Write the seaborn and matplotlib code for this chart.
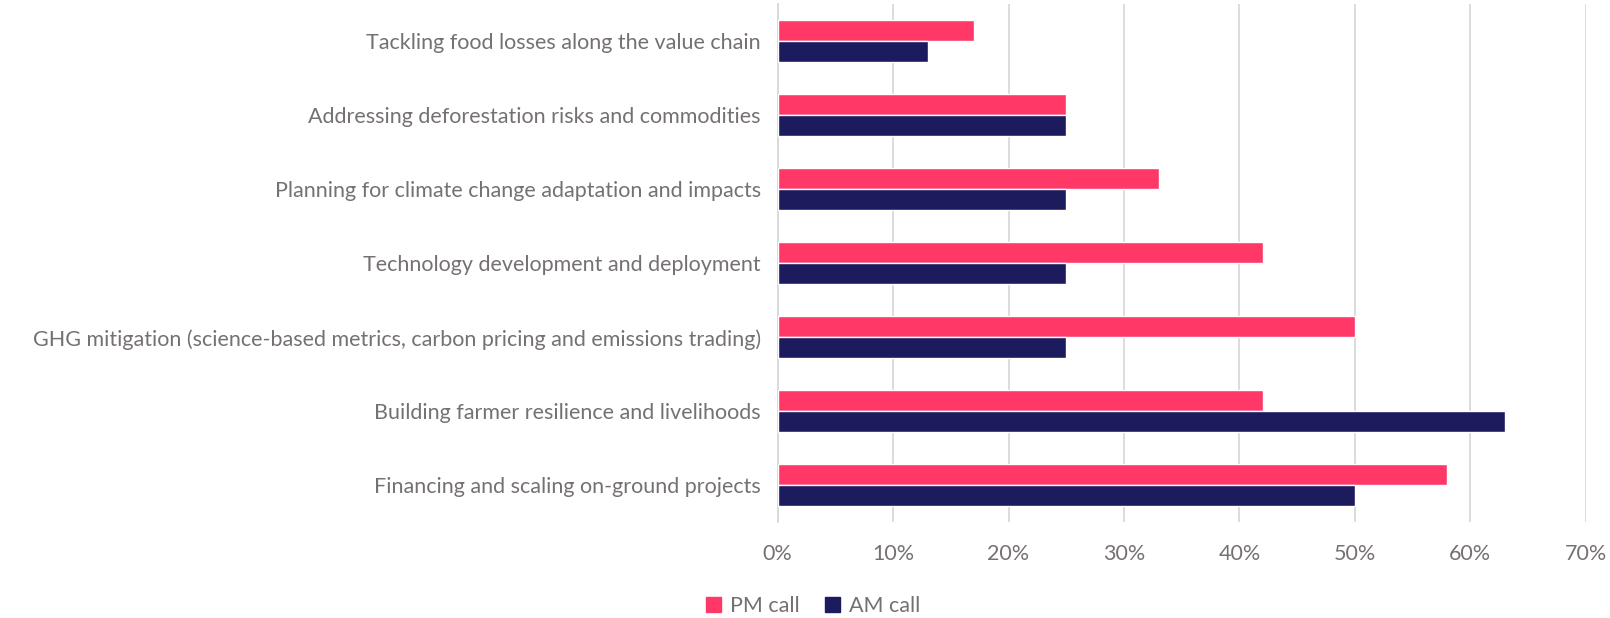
import pandas as pd
import matplotlib.pyplot as plt
import seaborn as sns
from matplotlib.patches import Patch

# data (top to bottom)
topics = [
    "Tackling food losses along the value chain",
    "Addressing deforestation risks and commodities",
    "Planning for climate change adaptation and impacts",
    "Technology development and deployment",
    "GHG mitigation (science-based metrics, carbon pricing and emissions trading)",
    "Building farmer resilience and livelihoods",
    "Financing and scaling on-ground projects",
]
pm_call = [17, 25, 33, 42, 50, 42, 58]
am_call = [13, 25, 25, 25, 25, 63, 50]
x_ticks = [0, 10, 20, 30, 40, 50, 60, 70]

df = pd.concat([
    pd.DataFrame({"topic": topics, "share": pm_call, "call": "PM call"}),
    pd.DataFrame({"topic": topics, "share": am_call, "call": "AM call"}),
])

sns.set_style("white")
plt.rcParams['font.family'] = ['Lato', 'DejaVu Sans']
text_grey = "#767171"
colors = {"PM call": "#FF3868", "AM call": "#1C1B5E"}

fig = plt.figure(figsize=(16.1, 6.18), dpi=100)
ax = fig.add_axes([0.483, 0.155, 0.502, 0.838])
sns.barplot(data=df, y="topic", x="share", hue="call", order=topics,
            hue_order=["PM call", "AM call"], palette=colors, orient="h",
            width=0.57, gap=0, saturation=1, ax=ax, legend=False, zorder=3)

ax.set_xlim(0, 70)
ax.set_xticks(x_ticks)
ax.set_xticklabels([f"{t}%" for t in x_ticks])
ax.xaxis.grid(True, color="#D9D9D9", linewidth=1.3, zorder=0)
ax.set_axisbelow(True)
ax.set_xlabel("")
ax.set_ylabel("")
for s in ["top", "right", "bottom"]:
    ax.spines[s].set_visible(False)
ax.spines["left"].set_color("#D9D9D9")
ax.spines["left"].set_linewidth(1.3)
ax.tick_params(axis="both", length=0, labelsize=15.5, labelcolor=text_grey)
ax.tick_params(axis="x", pad=16)
ax.tick_params(axis="y", pad=12)

handles = [Patch(color=colors["PM call"], label="PM call"),
           Patch(color=colors["AM call"], label="AM call")]
leg = fig.legend(handles=handles, loc="center", bbox_to_anchor=(0.505, 0.02),
                 ncol=2, frameon=False, fontsize=15.5, handlelength=0.7,
                 handleheight=0.7, handletextpad=0.4, columnspacing=1.2)
for t in leg.get_texts():
    t.set_color(text_grey)

fig.savefig("out.png", dpi=100)
